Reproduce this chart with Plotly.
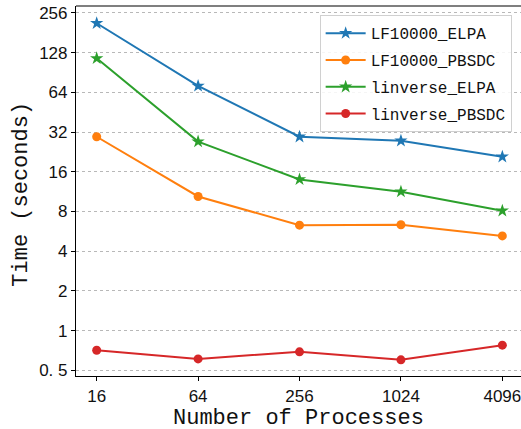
import plotly.graph_objects as go
import math

procs = [16, 64, 256, 1024, 4096]
lf_elpa = [214, 71.6, 29.5, 27.5, 20.8]
lf_pbsdc = [29.5, 10.4, 6.3, 6.35, 5.22]
linv_elpa = [116, 27.1, 14.0, 11.3, 8.1]
linv_pbsdc = [0.71, 0.61, 0.69, 0.60, 0.775]

ytick_vals = [0.5, 1, 2, 4, 8, 16, 32, 64, 128, 256]
ytick_text = ["0. 5", "1", "2", "4", "8", "16", "32", "64", "128", "256"]
xtick_text = ["16", "64", "256", "1024", "4096"]

series = [
    ("LF10000_ELPA", lf_elpa, "#1f77b4", "star", 10),
    ("LF10000_PBSDC", lf_pbsdc, "#ff7f0e", "circle", 9),
    ("linverse_ELPA", linv_elpa, "#2ca02c", "star", 10),
    ("linverse_PBSDC", linv_pbsdc, "#d62728", "circle", 9),
]

mono = "Liberation Mono, DejaVu Sans Mono, monospace"
tickf = "Liberation Sans, Arial, sans-serif"

fig = go.Figure()
for i, (name, vals, col, sym, sz) in enumerate(series):
    fig.add_trace(go.Scatter(
        x=procs, y=vals, name=name, mode="lines+markers",
        line=dict(color=col, width=2),
        marker=dict(color=col, symbol=sym, size=sz, line=dict(width=0)),
        legendgroup=f"g{i}",
    ))

fig.update_layout(
    width=521, height=429,
    margin=dict(l=76, r=0, t=6, b=53),
    plot_bgcolor="white", paper_bgcolor="white",
    showlegend=True,
    legend=dict(
        x=0.979, xanchor="right", y=0.975, yanchor="top",
        bgcolor="rgba(255,255,255,0.85)", bordercolor="#d0d0d0", borderwidth=1,
        font=dict(family=mono, size=16, color="#111"),
        tracegroupgap=3, itemwidth=40,
    ),
    xaxis=dict(
        type="log", automargin=False,
        range=[math.log10(16) - 0.204 * math.log10(4), math.log10(4096) + 0.184 * math.log10(4)],
        tickvals=procs, ticktext=xtick_text, ticklabeloverflow="allow",
        showgrid=False, zeroline=False,
        showline=True, linecolor="black", linewidth=1.2,
        ticks="outside", ticklen=4, tickcolor="black",
        tickfont=dict(family=tickf, size=17, color="#111"),
    ),
    yaxis=dict(
        type="log", automargin=False,
        range=[-1.144 * math.log10(2), 8.176 * math.log10(2)],
        tickvals=ytick_vals, ticktext=ytick_text, ticklabeloverflow="allow",
        showgrid=True, gridcolor="#b8b8b8", griddash="dot", gridwidth=1,
        zeroline=False,
        showline=True, linecolor="black", linewidth=1.2,
        ticks="outside", ticklen=4, tickcolor="black",
        tickfont=dict(family=tickf, size=17, color="#111"),
    ),
    shapes=[dict(type="line", xref="paper", yref="paper", x0=0, x1=1, y0=1, y1=1,
                 line=dict(color="black", width=1.2))],
    annotations=[
        dict(text="Number of Processes", xref="paper", yref="paper", x=0.5, y=-0.114,
             xanchor="center", yanchor="middle", showarrow=False,
             font=dict(family=mono, size=22, color="#111")),
        dict(text="Time (seconds)", xref="paper", yref="paper", x=-0.1213, y=0.49,
             xanchor="center", yanchor="middle", showarrow=False, textangle=-90,
             font=dict(family=mono, size=22, color="#111")),
    ],
)

fig.write_html(
    "out.html",
    config={"displayModeBar": False},
    post_script="document.body.style.margin='0';document.body.style.overflow='hidden';",
)
